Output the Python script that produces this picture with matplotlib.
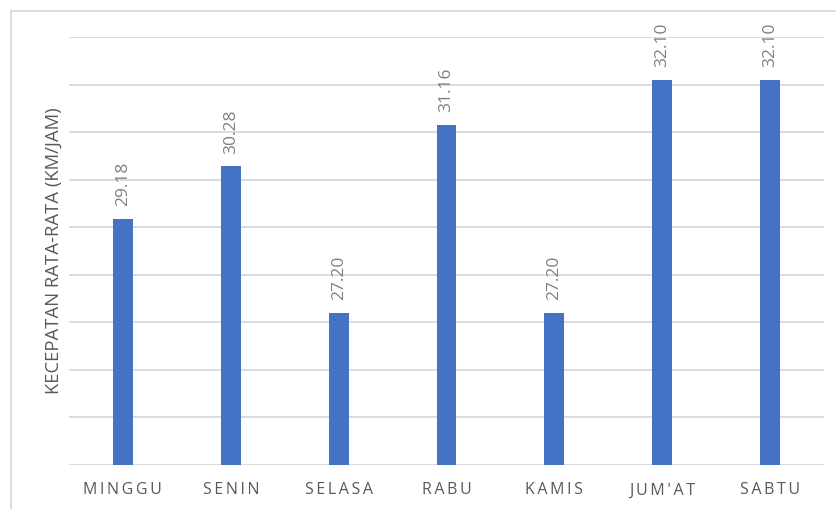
import matplotlib.pyplot as plt
from matplotlib.lines import Line2D

hari = ['MINGGU', 'SENIN', 'SELASA', 'RABU', 'KAMIS', "JUM'AT", 'SABTU']
kecepatan = [29.18, 30.28, 27.20, 31.16, 27.20, 32.10, 32.10]
label_y = 'KECEPATAN RATA-RATA (KM/JAM)'

plt.rcParams['font.family'] = ['Open Sans', 'DejaVu Sans']

fig = plt.figure(figsize=(8.37, 5.09), dpi=100)
ax = fig.add_axes([69/837, 44/509, 755/837, 428/509])

x = range(len(hari))
ax.bar(x, kecepatan, width=0.185, color='#4472C4', zorder=3)
for i, v in zip(x, kecepatan):
    ax.annotate('%.2f' % v, (i, v), xytext=(0, 9), textcoords='offset points',
                rotation=90, ha='center', va='bottom', fontsize=12.5, color='#808080')

ax.set_xlim(-0.5, len(hari) - 0.5)
ax.set_ylim(24, 33)
ax.set_yticks(range(24, 34))
ax.set_yticklabels([])
ax.grid(axis='y', color='#D9D9D9', lw=1.3, zorder=0)
ax.tick_params(left=False, bottom=False)
for s in ax.spines.values():
    s.set_visible(False)

ax.set_xticks(list(x))
ax.set_xticklabels(['\u2009'.join(h) for h in hari], fontsize=11.5, color='#595959')
ax.tick_params(axis='x', pad=9)
ax.set_ylabel(label_y, fontsize=13.3, color='#595959')
ax.yaxis.set_label_coords(-0.008, 0.5)

# frame of the chart area (cut off at right and bottom)
fig.add_artist(Line2D([11/837, 11/837], [0, 1 - 11/509], color='#D9D9D9', lw=1.3))
fig.add_artist(Line2D([11/837, 1], [1 - 11/509, 1 - 11/509], color='#D9D9D9', lw=1.3))

fig.savefig('out.png', dpi=100)
